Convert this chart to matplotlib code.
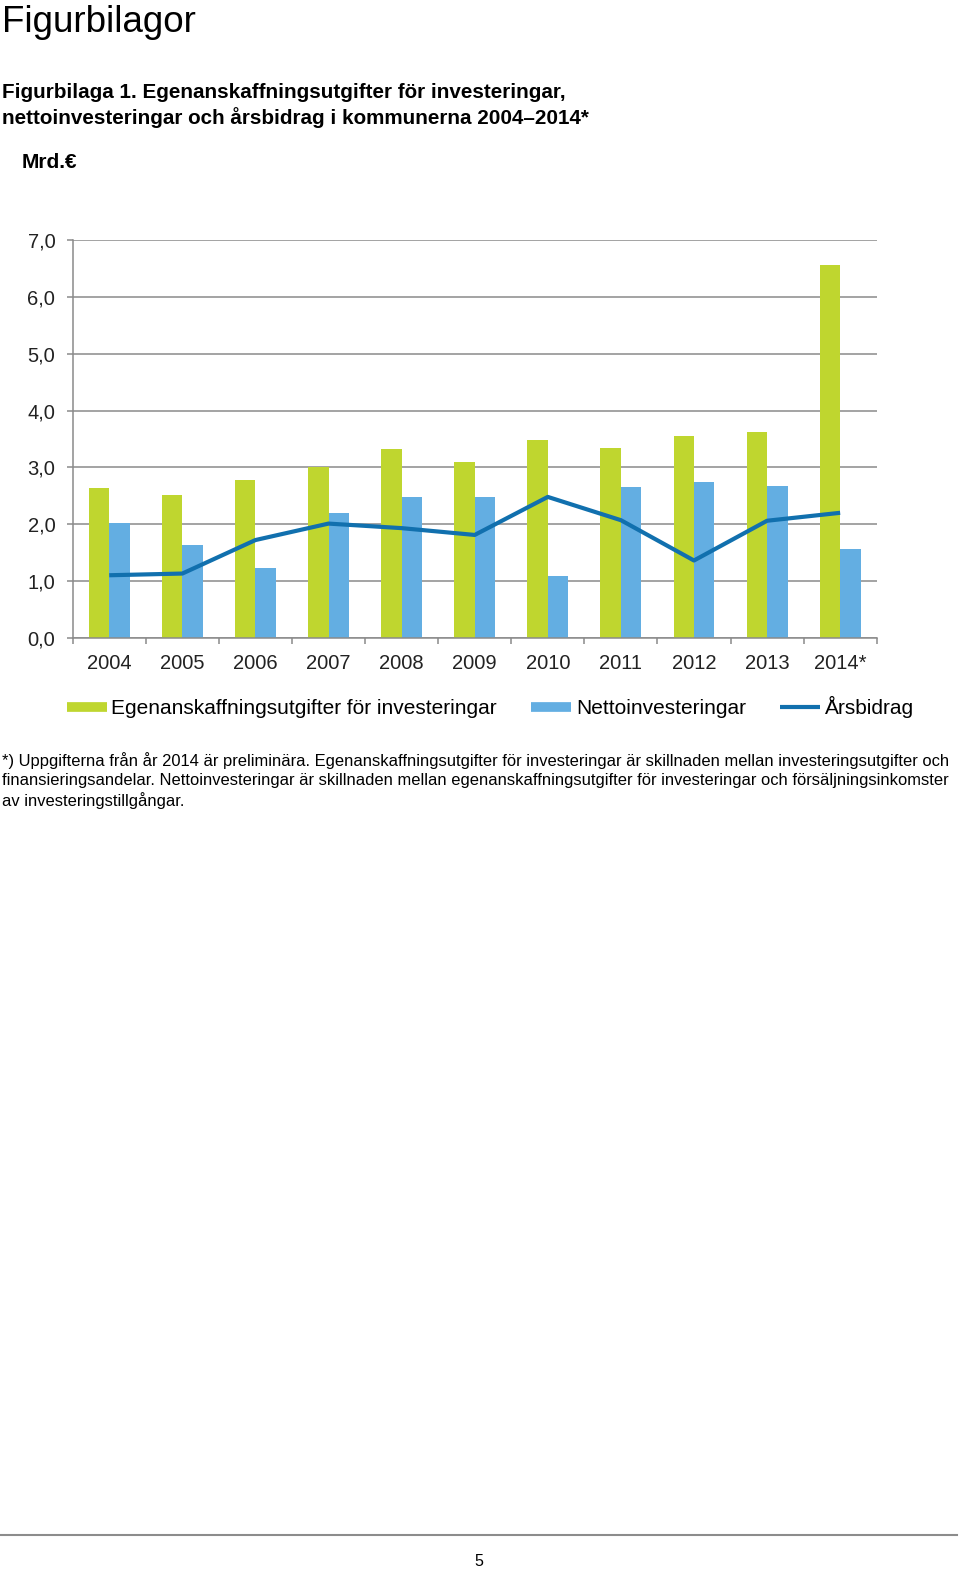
import matplotlib.pyplot as plt
from matplotlib.lines import Line2D
import numpy as np

# values (Mrd. €)
years = ["2004", "2005", "2006", "2007", "2008", "2009", "2010", "2011", "2012", "2013", "2014*"]
egenanskaffning = [2.63, 2.52, 2.77, 3.01, 3.32, 3.10, 3.48, 3.34, 3.56, 3.62, 6.56]
nettoinvest = [2.02, 1.63, 1.23, 2.19, 2.47, 2.47, 1.09, 2.65, 2.74, 2.68, 1.56]
arsbidrag = [1.10, 1.13, 1.72, 2.01, 1.93, 1.81, 2.48, 2.07, 1.36, 2.06, 2.20]
yticks = [0, 1, 2, 3, 4, 5, 6, 7]
ytick_labels = ["0,0", "1,0", "2,0", "3,0", "4,0", "5,0", "6,0", "7,0"]

GREEN = "#bfd62f"
LBLUE = "#63aee2"
DBLUE = "#1170ae"
GRID = "#8a8a8a"
SANS = ["Liberation Sans", "DejaVu Sans"]

W, H = 960, 1572
fig = plt.figure(figsize=(W / 100, H / 100), dpi=100)


def fy(py):
    # pixel row from top -> figure fraction
    return 1 - py / H


# page texts
fig.text(2 / W, fy(22), "Figurbilagor", family=SANS, fontsize=26.5, va="center", ha="left")
fig.text(2 / W, fy(93), "Figurbilaga 1. Egenanskaffningsutgifter för investeringar,",
         family=SANS, fontsize=14.9, weight="bold", va="center", ha="left")
fig.text(2 / W, fy(118), "nettoinvesteringar och årsbidrag i kommunerna 2004–2014*",
         family=SANS, fontsize=14.9, weight="bold", va="center", ha="left")
fig.text(22 / W, fy(162), "Mrd.€", family=SANS, fontsize=15, weight="bold",
         va="center", ha="left")

# chart
ax = fig.add_axes([72.7 / W, fy(637.7), 804 / W, (637.7 - 240.3) / H])
x = np.arange(len(years))
bw = 0.28
ax.bar(x - bw / 2, egenanskaffning, width=bw, color=GREEN, zorder=2)
ax.bar(x + bw / 2, nettoinvest, width=bw, color=LBLUE, zorder=2)
ax.plot(x, arsbidrag, color=DBLUE, lw=3, zorder=3, solid_capstyle="butt")

ax.set_xlim(-0.5, len(years) - 0.5)
ax.set_ylim(0, 7)
ax.set_yticks(yticks)
ax.set_yticklabels(ytick_labels, family=SANS, fontsize=14.5)
ax.set_xticks(x)
ax.set_xticklabels(years, family=SANS, fontsize=14.5)
ax.set_xticks(np.arange(-0.5, len(years)), minor=True)
ax.tick_params(axis="x", which="major", length=0, pad=12)
ax.tick_params(axis="x", which="minor", length=4.5, width=1.1, color=GRID, direction="out")
ax.tick_params(axis="y", length=4.5, width=1.1, color=GRID, pad=8, labelcolor="#222222")
ax.tick_params(axis="x", labelcolor="#222222")
ax.grid(axis="y", color=GRID, lw=1.1, zorder=1)
for s in ["top", "right"]:
    ax.spines[s].set_visible(False)
for s in ["left", "bottom"]:
    ax.spines[s].set_color(GRID)
    ax.spines[s].set_linewidth(1.1)

handles = [
    Line2D([], [], color=GREEN, lw=7, solid_capstyle="butt"),
    Line2D([], [], color=LBLUE, lw=7, solid_capstyle="butt"),
    Line2D([], [], color=DBLUE, lw=3, solid_capstyle="butt"),
]
labels = ["Egenanskaffningsutgifter för investeringar", "Nettoinvesteringar", "Årsbidrag"]
fig.legend(handles, labels, loc="center", bbox_to_anchor=(490.5 / W, fy(707)), ncol=3,
           frameon=False, prop={"family": SANS, "size": 15}, handlelength=1.92,
           handletextpad=0.22, columnspacing=1.65)

# footnote
foot = [
    "*) Uppgifterna från år 2014 är preliminära. Egenanskaffningsutgifter för investeringar är skillnaden mellan investeringsutgifter och",
    "finansieringsandelar. Nettoinvesteringar är skillnaden mellan egenanskaffningsutgifter för investeringar och försäljningsinkomster",
    "av investeringstillgångar.",
]
for i, line in enumerate(foot):
    fig.text(2 / W, fy(761 + 20 * i), line, family=SANS, fontsize=11.9,
             va="center", ha="left")

# page footer
fig.add_artist(Line2D([0, 957 / W], [fy(1535), fy(1535)], color="#8c8c8c", lw=1.5))
fig.text(479 / W, fy(1561), "5", family=SANS, fontsize=11.5, va="center", ha="center")

fig.savefig("out.png", dpi=100, facecolor="white")
